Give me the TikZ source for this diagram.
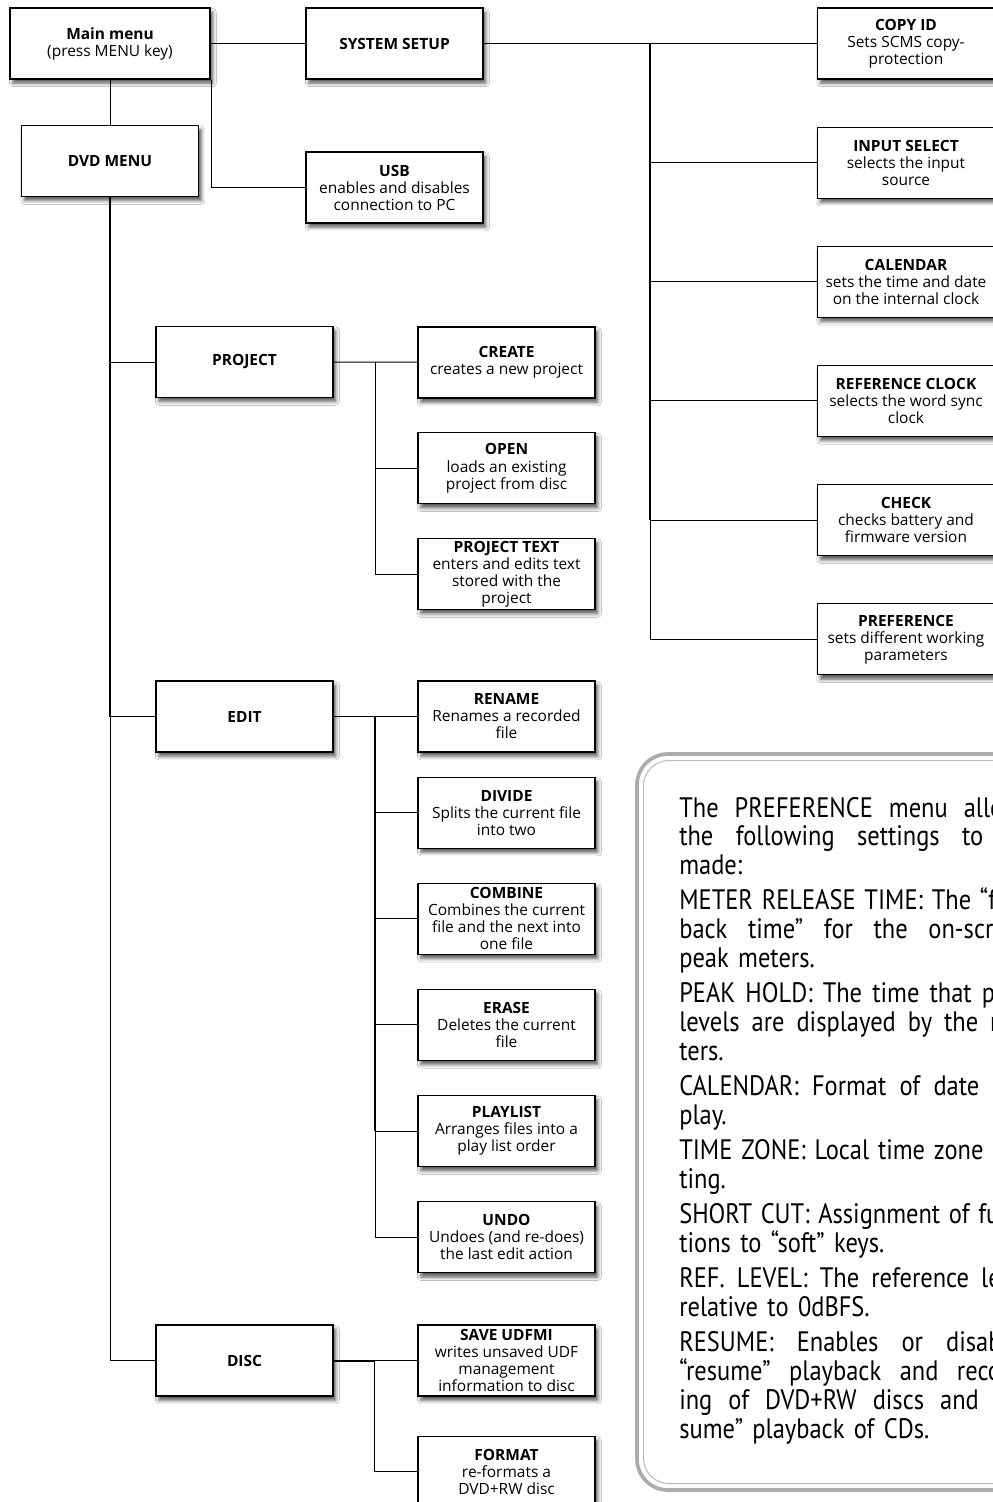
\documentclass[tikz,border=0pt]{standalone}
\usepackage{fontspec}
\setmainfont{Open Sans}
\newfontfamily\notefont[FakeStretch=0.87]{PT Sans}
\usepackage{tikz}
\usetikzlibrary{positioning}
\usetikzlibrary{shadows.blur}
\tikzset{menubox/.style={draw, line width=0.8pt, fill=white, minimum width=4.425cm, minimum height=1.775cm, align=center, inner sep=1pt, font=\fontsize{11}{12.1}\selectfont, blur shadow={shadow xshift=2pt, shadow yshift=-3pt, shadow blur radius=2.5pt, shadow opacity=65}}}
\newcommand{\noteline}[1]{\makebox[8.8cm][s]{\spaceskip=0pt\xspaceskip=0pt #1}}

\begin{document}
\begin{tikzpicture}[
      x=0.025cm, y=-0.025cm,
      topbox/.style={menubox, line width=1.6pt, minimum width=5cm},
      bus/.style={line width=1.4pt},
      leg/.style={line width=0.7pt},
      frame/.style={draw=black!33, line width=2.6pt, rounded corners=22pt},
      subframe/.style={draw=black!28, line width=0.7pt, rounded corners=18pt},
  ]
    \useasboundingbox (0,0) rectangle (993,1502);
    \clip (0,0) rectangle (993,1502);
    \fill[white] (0,0) rectangle (993,1502);

    %% --- Top level ---
    \node[topbox] (main) at (110,43.5) {\textbf{Main menu}\\(press MENU key)};
    \node[menubox] (setup) at (394.5,43.5) {\textbf{SYSTEM SETUP}};
    \node[menubox] (dvd) at (110,161) {\textbf{DVD MENU}};
    \node[menubox] (usb) at (394.5,187.5) {\textbf{USB}\\enables and disables\\connection to PC};

    %% --- System setup column ---
    \node[menubox] (copyid) at (906,43.5) {\textbf{COPY ID}\\Sets SCMS copy-\\protection};
    \node[menubox, below=1.175cm of copyid] (input) {\textbf{INPUT SELECT}\\selects the input\\source};
    \node[menubox, below=1.175cm of input] (calendar) {\textbf{CALENDAR}\\sets the time and date\\on the internal clock};
    \node[menubox, below=1.175cm of calendar] (refclock) {\textbf{REFERENCE CLOCK}\\selects the word sync\\clock};
    \node[menubox, below=1.175cm of refclock] (check) {\textbf{CHECK}\\checks battery and\\firmware version};
    \node[menubox, below=1.175cm of check] (pref) {\textbf{PREFERENCE}\\sets different working\\parameters};

    %% --- DVD menu entries ---
    \node[menubox] (project) at (244.5,362) {\textbf{PROJECT}};
    \node[menubox] (edit) at (244.5,716.5) {\textbf{EDIT}};
    \node[menubox] (disc) at (244.5,1360.5) {\textbf{DISC}};

    %% --- Project ---
    \node[menubox] (create) at (506.5,362.5) {\textbf{CREATE}\\creates a new project};
    \node[menubox, below=0.84cm of create] (open) {\textbf{OPEN}\\loads an existing\\project from disc};
    \node[menubox, below=0.84cm of open] (ptext) {\textbf{PROJECT TEXT}\\enters and edits text\\stored with the\\project};

    %% --- Edit ---
    \node[menubox] (rename) at (506.5,716.5) {\textbf{RENAME}\\Renames a recorded\\file};
    \node[menubox, below=0.6cm of rename] (divide) {\textbf{DIVIDE}\\Splits the current file\\into two};
    \node[menubox, below=0.85cm of divide] (combine) {\textbf{COMBINE}\\Combines the current\\file and the next into\\one file};
    \node[menubox, below=0.85cm of combine] (erase) {\textbf{ERASE}\\Deletes the current\\file};
    \node[menubox, below=0.85cm of erase] (playlist) {\textbf{PLAYLIST}\\Arranges files into a\\play list order};
    \node[menubox, below=0.85cm of playlist] (undo) {\textbf{UNDO}\\Undoes (and re-does)\\the last edit action};

    %% --- Disc ---
    \node[menubox] (saveudf) at (506.5,1360.5) {\textbf{SAVE UDFMI}\\writes unsaved UDF\\management\\information to disc};
    \node[menubox, below=0.975cm of saveudf] (format) {\textbf{FORMAT}\\re-formats a\\DVD+RW disc};

    %% --- Connectors: top level ---
    \draw[leg] (main) -- (setup);
    \draw[leg] (main) -- (dvd);
    \draw[leg] (main.south east) |- (usb.west);

    %% --- Connectors: system setup ---
    \coordinate (sbus) at (650,43.5);
    \draw[bus] (setup) -- (sbus) -- (sbus |- check);
    \draw[leg] (sbus |- check) -- (sbus |- pref);
    \draw[leg] (sbus) -- (copyid);
    \draw[leg] (sbus |- input) -- (input);
    \draw[leg] (sbus |- calendar) -- (calendar);
    \draw[leg] (sbus |- refclock) -- (refclock);
    \draw[leg] (sbus |- check) -- (check);
    \draw[leg] (sbus |- pref) -- (pref);

    %% --- Connectors: DVD menu ---
    \coordinate (dbus) at (dvd.south);
    \draw[bus] (dbus) -- (dbus |- edit);
    \draw[leg] (dbus |- edit) -- (dbus |- disc);
    \draw[leg] (dbus |- project) -- (project);
    \draw[leg] (dbus |- edit) -- (edit);
    \draw[leg] (dbus |- disc) -- (disc);

    %% --- Connectors: project ---
    \coordinate (pbus) at (375,362);
    \draw[leg] (project) -- (pbus) -- (create);
    \draw[leg] (pbus) |- (ptext);
    \draw[leg] (pbus |- open) -- (open);

    %% --- Connectors: edit ---
    \coordinate (ebus) at (375,716.5);
    \draw[bus] (edit) -- (ebus) -- (ebus |- playlist);
    \draw[leg] (ebus |- playlist) -- (ebus |- undo);
    \draw[leg] (ebus) -- (rename);
    \draw[leg] (ebus |- divide) -- (divide);
    \draw[leg] (ebus |- combine) -- (combine);
    \draw[leg] (ebus |- erase) -- (erase);
    \draw[leg] (ebus |- playlist) -- (playlist);
    \draw[leg] (ebus |- undo) -- (undo);

    %% --- Connectors: disc ---
    \coordinate (cbus) at (374,1360.5);
    \draw[bus] (disc) -- (cbus);
    \draw[leg] (cbus) -- (saveudf);
    \draw[leg] (cbus) |- (format);

    %% --- Preference note ---
    \draw[frame] (637,754) rectangle (1090,1490);
    \draw[subframe] (643.5,760.5) rectangle (1083.5,1483.5);
    \node[anchor=base west, inner sep=0, text width=10cm, align=left,
          font=\notefont\fontsize{20}{20.6}\selectfont] (note) at (679,817) {%
      \noteline{The PREFERENCE menu allows}\\
      \noteline{the following settings to be}\\
      made:\\[4.3pt]
      \noteline{METER RELEASE TIME: The “fall-}\\
      \noteline{back time” for the on-screen}\\
      peak meters.\\[4.3pt]
      \noteline{PEAK HOLD: The time that peak}\\
      \noteline{levels are displayed by the me-}\\
      ters.\\[4.3pt]
      \noteline{CALENDAR: Format of date dis-}\\
      play.\\[4.3pt]
      \noteline{TIME ZONE: Local time zone set-}\\
      ting.\\[4.3pt]
      \noteline{SHORT CUT: Assignment of func-}\\
      tions to “soft” keys.\\[4.3pt]
      \noteline{REF. LEVEL: The reference level}\\
      relative to 0dBFS.\\[4.3pt]
      \noteline{RESUME: Enables or disables}\\
      \noteline{“resume” playback and record-}\\
      \noteline{ing of DVD+RW discs and “re-}\\
      sume” playback of CDs.};
  \end{tikzpicture}
\end{document}
